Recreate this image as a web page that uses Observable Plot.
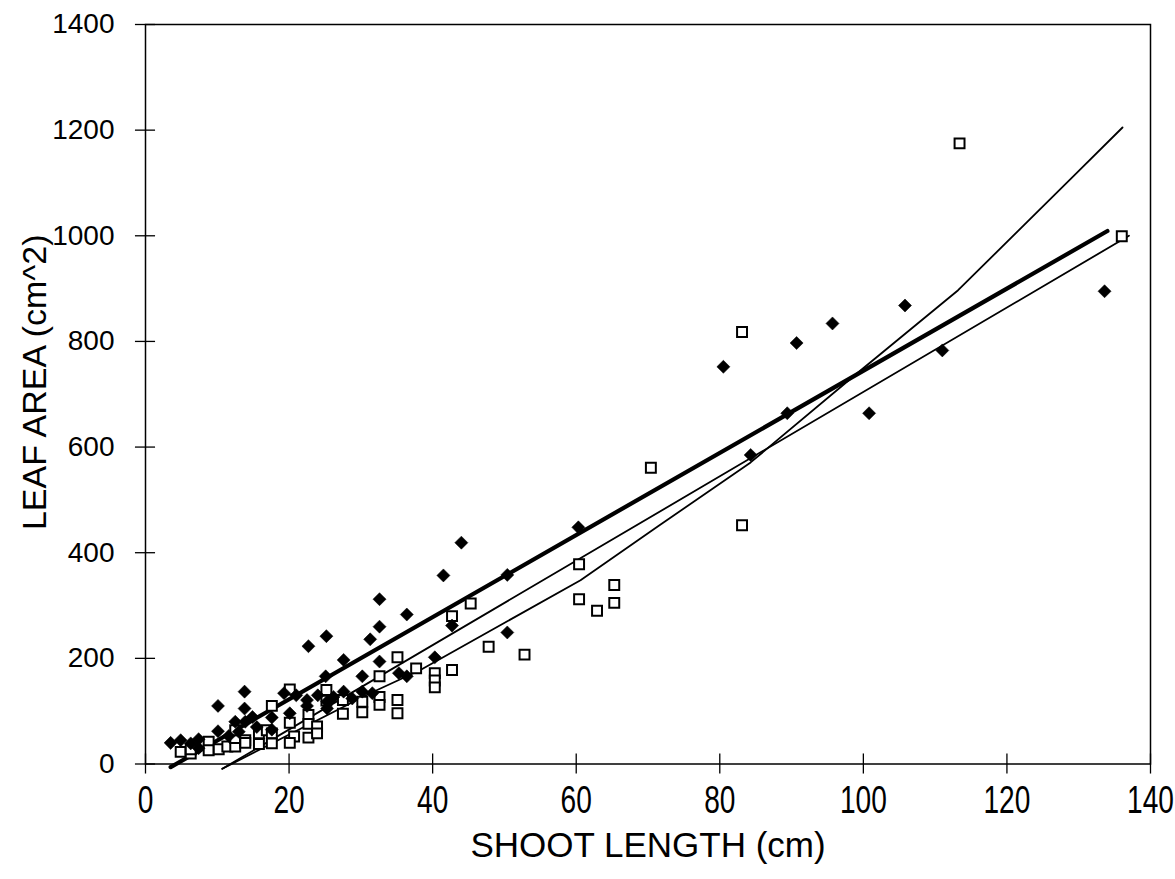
<!DOCTYPE html>
<html>
<head>
<meta charset="utf-8">
<script src="https://cdn.jsdelivr.net/npm/d3@7"></script>
<script src="https://cdn.jsdelivr.net/npm/@observablehq/plot@0.6"></script>
<style>
  body { margin: 0; background: #fff; }
</style>
</head>
<body>
<div id="chart"></div>
<script>
// ---- data ----
const diamondX = [3.5, 4.9, 6.3, 7.4, 7.4, 10.1, 10.1, 11.6, 12.5, 13, 13.9, 13.8, 13.8, 14.9, 15.5, 17.6, 17.6, 19.3, 20.1, 21, 22.5, 22.5, 22.7, 24, 25.2, 25.1, 25.3, 25.3, 26.2, 27.6, 27.6, 28.8, 30.2, 30.2, 31.3, 31.6, 32.6, 32.6, 32.6, 35.3, 36.4, 36.4, 40.3, 41.5, 42.7, 44, 50.4, 50.4, 60.3, 80.5, 84.3, 89.4, 90.7, 95.7, 100.8, 105.8, 111, 133.6];
const diamondY = [40, 45, 39, 47, 30, 110, 62, 53, 80, 61, 80, 137, 105, 89, 70, 88, 65, 134, 96, 130, 121, 110, 223, 130, 242, 166, 118, 105, 127, 197, 137, 124, 166, 137, 236, 134, 312, 260, 194, 172, 166, 283, 202, 357, 262, 419, 358, 249, 448, 752, 585, 664, 797, 834, 664, 868, 783, 895];

const squareX = [4.9, 6.3, 6.3, 8.8, 8.8, 10.2, 11.4, 12.5, 12.5, 12.5, 13.9, 13.9, 15.8, 15.8, 16.9, 17.6, 17.6, 17.6, 20.1, 20.1, 20.7, 20.1, 22.7, 22.7, 22.7, 23.9, 23.9, 25.2, 25.2, 27.5, 27.5, 30.2, 30.2, 32.6, 32.6, 32.6, 35.1, 35.1, 35.1, 37.7, 40.3, 40.3, 40.3, 42.7, 42.7, 45.3, 47.8, 52.8, 60.4, 60.4, 62.9, 65.3, 65.3, 70.4, 83.1, 83.1, 113.4, 136];
const squareY = [23, 20, 28, 42, 26, 28, 33, 33, 49, 64, 45, 40, 58, 38, 64, 110, 58, 39, 141, 78, 52, 40, 93, 76, 50, 71, 58, 140, 120, 121, 95, 118, 98, 166, 127, 112, 202, 121, 96, 181, 172, 158, 145, 280, 178, 304, 222, 207, 378, 312, 290, 339, 305, 561, 818, 452, 1175, 999];

// trend lines
const thickLineX = [3.5, 134];
const thickLineY = [-6, 1009];
const thinLineX = [10.7, 137];
const thinLineY = [-9, 1000];
const curveX = [10.7, 31.3, 38.3, 60.6, 71.4, 84.3, 99.6, 113.2, 129.8, 136.1];
const curveY = [-9, 134, 178, 348, 450, 571, 745, 897, 1120, 1205];

const xTicks = [0, 20, 40, 60, 80, 100, 120, 140];
const yTicks = [0, 200, 400, 600, 800, 1000, 1200, 1400];
const xTitle = "SHOOT LENGTH (cm)";
const yTitle = "LEAF AREA (cm^2)";

// ---- build ----
const diamonds = diamondX.map((x, i) => ({x, y: diamondY[i]}));
const squares = squareX.map((x, i) => ({x, y: squareY[i]}));
const thick = thickLineX.map((x, i) => ({x, y: thickLineY[i]}));
const thin = thinLineX.map((x, i) => ({x, y: thinLineY[i]}));
const curve = curveX.map((x, i) => ({x, y: curveY[i]}));

const regular = "'Liberation Sans', Arial, sans-serif";

const chart = Plot.plot({
  width: 1175,
  height: 879,
  marginLeft: 145,
  marginRight: 25,
  marginTop: 24,
  marginBottom: 115.5,
  style: {fontFamily: regular, color: "black", background: "white"},
  x: {domain: [0, 140]},
  y: {domain: [0, 1400]},
  marks: [
    Plot.frame({stroke: "black", strokeWidth: 1.5}),
    Plot.ruleY(yTicks, {x1: -1.4, x2: 1.4, stroke: "black", strokeWidth: 1.3}),
    Plot.ruleX(xTicks, {y1: -19, y2: 19, stroke: "black", strokeWidth: 1.3}),
    Plot.axisY({ticks: yTicks, tickSize: 0, tickPadding: 31, label: null, tickFormat: d => String(d), fontSize: 28, fontFamily: regular, fill: "black"}),
    Plot.axisX({ticks: xTicks, tickSize: 0, tickPadding: 22, label: null, tickFormat: d => String(d), fontSize: 38, fontFamily: regular, fill: "black"}),
    Plot.line(curve, {x: "x", y: "y", stroke: "black", strokeWidth: 1.8}),
    Plot.line(thin, {x: "x", y: "y", stroke: "black", strokeWidth: 1.8}),
    Plot.line(thick, {x: "x", y: "y", stroke: "black", strokeWidth: 4.2}),
    Plot.dot(squares, {x: "x", y: "y", symbol: "square", r: 5.6, fill: "white", stroke: "black", strokeWidth: 2}),
    Plot.dot(diamonds, {x: "x", y: "y", symbol: "square", rotate: 45, r: 5.2, fill: "black", stroke: "black", strokeWidth: 0.5}),
    Plot.text([yTitle], {frameAnchor: "left", textAnchor: "middle", dx: -110, dy: -12, rotate: -90, fontSize: 34, fontFamily: regular, fill: "black"}),
    Plot.text([xTitle], {frameAnchor: "bottom", textAnchor: "middle", dy: 93, fontSize: 35, fontFamily: regular, fill: "black"})
  ]
});
// condense the x tick labels horizontally (as in the reference)
chart.querySelectorAll('g[aria-label="x-axis tick label"] text').forEach(t => {
  const tr = t.getAttribute("transform");
  if (tr && tr.includes("translate")) t.setAttribute("transform", tr + " scale(0.74,1)");
});
document.getElementById("chart").appendChild(chart);
</script>
</body>
</html>
